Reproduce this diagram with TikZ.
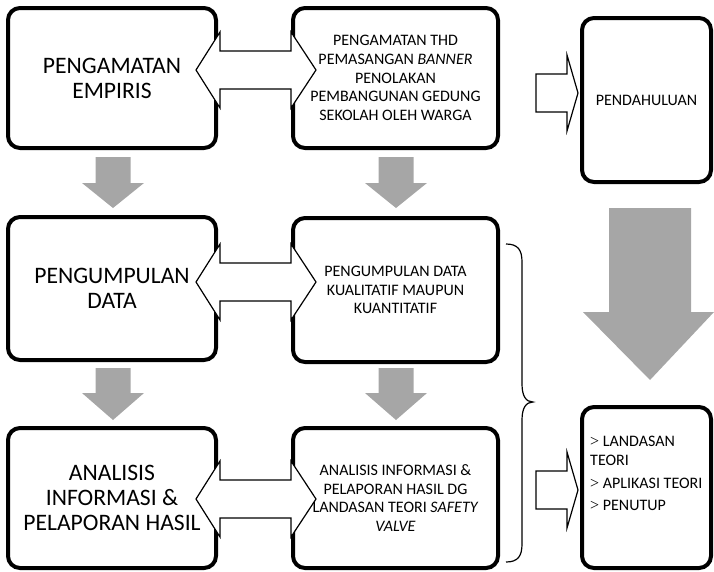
\documentclass[tikz,border=0pt]{standalone}
\usepackage{fontspec}
\setmainfont{Carlito}
\newfontfamily\serf{Liberation Serif}
\definecolor{arrgray}{HTML}{A6A6A6}
\tikzset{
  box/.style={draw=black, line width=4pt, rounded corners=12pt, fill=white, align=center, inner sep=0pt},
  bigtxt/.style={font=\fontsize{23.6}{25}\selectfont},
  smalltxt/.style={font=\fontsize{16}{18.7}\selectfont},
  blockarr/.style={draw=black, line width=1.2pt, fill=white, line join=miter},
  grayarr/.style={fill=arrgray, draw=none},
  bracestyle/.style={draw=black, line width=1.2pt}
}
% double block arrow: left tip x, right tip x, center y
\newcommand{\dblArr}[3]{%
  \path[blockarr] (#1,#3) -- ({#1+24},{#3-38}) -- ({#1+24},{#3-19}) -- ({#2-25},{#3-19}) -- ({#2-25},{#3-38})
    -- (#2,#3) -- ({#2-25},{#3+38}) -- ({#2-25},{#3+19}) -- ({#1+24},{#3+19}) -- ({#1+24},{#3+38}) -- cycle;}
% right block arrow: shaft left x, tip x, center y
\newcommand{\rgtArr}[3]{%
  \path[blockarr] (#1,{#3-19}) -- ({#2-11},{#3-19}) -- ({#2-11},{#3-38}) -- (#2,#3) -- ({#2-11},{#3+38})
    -- ({#2-11},{#3+19}) -- (#1,{#3+19}) -- cycle;}
% gray down arrow: center x, shaft top, head base, tip y
\newcommand{\dnArr}[4]{%
  \fill[grayarr] ({#1-17.5},#2) -- ({#1+17.5},#2) -- ({#1+17.5},#3) -- ({#1+31},#3) -- (#1,#4)
    -- ({#1-31},#3) -- ({#1-17.5},#3) -- cycle;}
\begin{document}
\begin{tikzpicture}[x=1pt,y=-1pt]
\useasboundingbox (0,0) rectangle (714,571);
% boxes
\node[box, bigtxt, minimum width=208pt, minimum height=140pt] (b1) at (112,78) {PENGAMATAN\\EMPIRIS};
\node[box, smalltxt, minimum width=205pt, minimum height=140pt] (b2) at (395.5,78) {PENGAMATAN THD\\PEMASANGAN \textit{BANNER}\\PENOLAKAN\\PEMBANGUNAN GEDUNG\\SEKOLAH OLEH WARGA};
\node[box, smalltxt, minimum width=129pt, minimum height=164pt] (b3) at (646.5,100) {PENDAHULUAN};
\node[box, bigtxt, minimum width=208pt, minimum height=143pt] (c1) at (112,288.5) {PENGUMPULAN\\DATA};
\node[box, smalltxt, minimum width=205pt, minimum height=144pt] (c2) at (395.5,290) {PENGUMPULAN DATA\\KUALITATIF MAUPUN\\KUANTITATIF};
\node[box, bigtxt, minimum width=208pt, minimum height=140pt] (d1) at (112,498) {ANALISIS\\INFORMASI \&\\PELAPORAN HASIL};
\node[box, smalltxt, minimum width=205pt, minimum height=140pt] (d2) at (395.5,498) {ANALISIS INFORMASI \&\\PELAPORAN HASIL DG\\LANDASAN TEORI \textit{SAFETY}\\\textit{VALVE}};
\node[box, minimum width=129pt, minimum height=161pt] (d3) at (646.5,487.5) {};
\node[smalltxt, align=left, anchor=north west, inner sep=0pt] (d3t) at (590,436) {{\serf >} LANDASAN\\TEORI\\[5pt]{\serf >} APLIKASI TEORI\\[3pt]{\serf >} PENUTUP};
% double block arrows between columns
\dblArr{196}{316}{70}
\dblArr{196}{316}{282}
\dblArr{196}{316}{499}
% right block arrows
\rgtArr{536}{578}{93}
\rgtArr{536}{578}{490}
% gray down arrows
\dnArr{113}{157}{183}{208}
\dnArr{396}{157}{183}{208}
\dnArr{113}{368}{393}{420}
\dnArr{396}{368}{393}{420}
% big gray arrow
\fill[grayarr] (609,208) -- (691,208) -- (691,312) -- (714,312) -- (650,380) -- (583,312) -- (609,312) -- cycle;
% brace
\draw[bracestyle] (506,244) .. controls (518,244) and (522,250) .. (522,262) -- (522,384)
  .. controls (522,396) and (526,402) .. (533,402)
  .. controls (526,402) and (522,408) .. (522,420) -- (522,544)
  .. controls (522,556) and (518,562) .. (506,562);
\end{tikzpicture}
\end{document}
